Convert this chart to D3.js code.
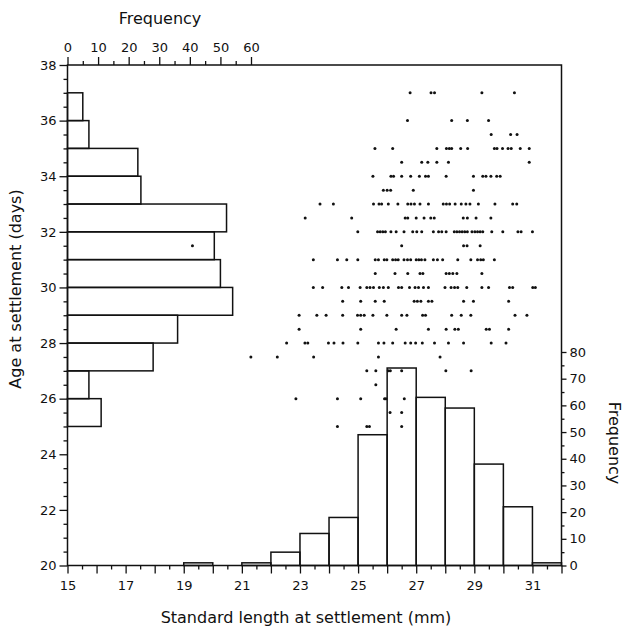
<!DOCTYPE html>
<html>
<head>
<meta charset="utf-8">
<script src="https://cdn.jsdelivr.net/npm/d3@7/dist/d3.min.js"></script>
<style>
  html, body { margin: 0; padding: 0; background: #fff; }
  svg text { font-family: "DejaVu Sans", sans-serif; fill: #111; }
</style>
</head>
<body>
<svg id="chart" width="623" height="627"></svg>
<script>
// ---- Data ----
// Age histogram (left, horizontal bars): bins [age, age+1)
const ageBinStarts = [25, 26, 27, 28, 29, 30, 31, 32, 33, 34, 35, 36];
const ageFreq      = [11,  7, 28, 36, 54, 50, 48, 52, 24, 23,  7,  5];

// Length histogram (bottom, vertical bars): bins [len, len+1)
const lenBinStarts = [19, 21, 22, 23, 24, 25, 26, 27, 28, 29, 30, 31];
const lenFreq      = [ 1,  1,  5, 12, 18, 49, 74, 63, 59, 38, 22,  1];

// Scatter: age (days) rows with standard lengths (mm)
const scatterAges = [37, 36, 35.5, 35, 34.5, 34, 33.5, 33, 32.5, 32, 31.5, 31, 30.5, 30, 29.5, 29, 28.5, 28, 27.5, 27, 26.5, 26, 25.5, 25];
const scatterLengths = [
  [26.79, 27.51, 27.63, 29.26, 30.38],
  [26.70, 28.22, 28.76, 29.49],
  [29.58, 30.25, 30.47],
  [25.58, 26.19, 27.71, 28.04, 28.14, 28.22, 28.53, 28.77, 29.69, 29.78, 29.97, 30.16, 30.27, 30.58, 30.89],
  [26.50, 27.19, 27.40, 27.71, 28.11, 30.89],
  [25.51, 26.13, 26.22, 26.50, 26.81, 27.11, 27.32, 27.42, 28.03, 28.97, 29.29, 29.40, 29.57, 29.77, 29.89],
  [25.87, 26.00, 26.12, 26.90, 28.97],
  [23.69, 24.15, 25.53, 25.72, 25.81, 26.04, 26.37, 26.71, 26.82, 26.94, 27.13, 27.42, 27.93, 28.04, 28.15, 28.34, 28.55, 28.71, 28.85, 29.14, 29.71, 30.32, 30.46],
  [23.18, 24.78, 26.62, 26.71, 27.00, 27.27, 27.50, 27.62, 28.62, 28.76, 29.06, 29.57],
  [24.99, 25.67, 25.76, 25.85, 25.94, 26.13, 26.31, 26.58, 26.88, 27.02, 27.19, 27.59, 27.77, 27.88, 28.03, 28.31, 28.40, 28.49, 28.58, 28.67, 28.76, 28.92, 29.02, 29.11, 29.20, 29.29, 29.60, 29.98, 30.50, 30.61, 31.00],
  [19.30, 26.50, 28.63, 28.75, 29.20],
  [23.46, 24.29, 24.61, 24.99, 25.59, 25.70, 25.90, 25.99, 26.19, 26.29, 26.38, 26.58, 26.70, 26.81, 27.00, 27.09, 27.18, 27.30, 27.59, 27.73, 27.91, 28.43, 28.88, 29.11, 29.22, 29.31, 29.69],
  [25.59, 26.27, 26.71, 27.13, 27.23, 28.03, 28.14, 28.26, 28.40, 29.26],
  [23.46, 23.78, 24.44, 24.67, 25.07, 25.30, 25.41, 25.53, 25.73, 25.87, 26.04, 26.39, 26.50, 26.77, 26.96, 27.08, 27.25, 27.42, 27.99, 28.20, 28.32, 28.43, 28.74, 29.26, 29.49, 30.21, 30.32, 31.01, 31.10],
  [24.47, 25.09, 25.59, 25.90, 26.93, 27.04, 27.16, 27.42, 27.54, 28.63, 28.97, 30.18],
  [22.97, 23.58, 23.90, 24.47, 24.98, 25.09, 25.21, 25.51, 25.99, 26.50, 26.68, 27.22, 27.32, 28.22, 28.55, 28.88, 30.40, 30.81],
  [22.97, 25.09, 26.31, 27.42, 28.03, 28.33, 28.45, 29.41, 29.52, 30.18],
  [22.54, 23.17, 23.27, 23.98, 24.17, 24.48, 24.99, 25.70, 25.89, 26.19, 26.62, 26.81, 26.98, 27.21, 27.63, 28.11, 28.63, 29.58, 30.09],
  [21.31, 22.22, 23.47, 25.70, 27.82],
  [25.30, 25.61, 26.04, 26.11, 26.50, 28.02, 28.89],
  [25.61],
  [22.86, 24.29, 25.09, 25.91, 25.96, 26.59],
  [26.10, 26.50],
  [24.29, 25.30, 25.39, 26.50]
];

// Tick values
const xMajorTicks = d3.range(15, 33, 1);
const xLabelTicks = [15, 17, 19, 21, 23, 25, 27, 29, 31];
const yMajorTicks = [20, 22, 24, 26, 28, 30, 32, 34, 36, 38];
const topFreqTicks = [0, 10, 20, 30, 40, 50, 60];
const rightFreqTicks = [0, 10, 20, 30, 40, 50, 60, 70, 80];

// ---- Scales ----
const x = d3.scaleLinear().domain([15, 32]).range([67.5, 561.5]);
const y = d3.scaleLinear().domain([20, 38]).range([565.5, 65]);
const fTop = d3.scaleLinear().domain([0, 60]).range([67.5, 251]);
const fRight = d3.scaleLinear().domain([0, 80]).range([565.5, 352]);

const svg = d3.select("#chart");
const ink = "#111";

// ---- Frame ----
svg.append("rect")
  .attr("x", x(15)).attr("y", y(38))
  .attr("width", x(32) - x(15)).attr("height", y(20) - y(38))
  .attr("fill", "none").attr("stroke", ink).attr("stroke-width", 1.5);

function styleAxis(g, fontSize) {
  g.select(".domain").remove();
  g.selectAll("line").attr("stroke", ink).attr("stroke-width", 1.3);
  g.selectAll("text").attr("font-size", fontSize).attr("fill", ink)
    .attr("font-family", "DejaVu Sans, sans-serif");
}

// Bottom axis
svg.append("g").attr("transform", `translate(0,${y(20)})`)
  .call(d3.axisBottom(x).tickValues(d3.range(15.5, 32, 1)).tickSize(4).tickFormat(""))
  .call(g => styleAxis(g, 13));
svg.append("g").attr("transform", `translate(0,${y(20)})`)
  .call(d3.axisBottom(x).tickValues(xMajorTicks).tickSize(8).tickPadding(7)
    .tickFormat(d => xLabelTicks.includes(d) ? d : ""))
  .call(g => styleAxis(g, 13));

// Left axis
svg.append("g").attr("transform", `translate(${x(15)},0)`)
  .call(d3.axisLeft(y).tickValues(d3.range(20.5, 38, 0.5).filter(v => !yMajorTicks.includes(v))).tickSize(4).tickFormat(""))
  .call(g => styleAxis(g, 13));
svg.append("g").attr("transform", `translate(${x(15)},0)`)
  .call(d3.axisLeft(y).tickValues(yMajorTicks).tickSize(8).tickPadding(3))
  .call(g => styleAxis(g, 13));

// Top frequency axis
svg.append("g").attr("transform", `translate(0,${y(38)})`)
  .call(d3.axisTop(fTop).tickValues([5, 15, 25, 35, 45, 55]).tickSize(4).tickFormat(""))
  .call(g => styleAxis(g, 13));
svg.append("g").attr("transform", `translate(0,${y(38)})`)
  .call(d3.axisTop(fTop).tickValues(topFreqTicks).tickSize(8).tickPadding(5))
  .call(g => styleAxis(g, 13));

// Right frequency axis
svg.append("g").attr("transform", `translate(${x(32)},0)`)
  .call(d3.axisRight(fRight).tickValues([5, 15, 25, 35, 45, 55, 65, 75]).tickSize(3).tickFormat(""))
  .call(g => styleAxis(g, 13));
svg.append("g").attr("transform", `translate(${x(32)},0)`)
  .call(d3.axisRight(fRight).tickValues(rightFreqTicks).tickSize(5).tickPadding(3))
  .call(g => styleAxis(g, 13));

// ---- Histograms ----
svg.append("g").selectAll("rect")
  .data(ageBinStarts.map((a, i) => ({a, f: ageFreq[i]})))
  .join("rect")
  .attr("x", x(15))
  .attr("y", d => y(d.a + 1))
  .attr("width", d => fTop(d.f) - fTop(0))
  .attr("height", d => y(d.a) - y(d.a + 1))
  .attr("fill", "none").attr("stroke", ink).attr("stroke-width", 1.5);

svg.append("g").selectAll("rect")
  .data(lenBinStarts.map((l, i) => ({l, f: lenFreq[i]})))
  .join("rect")
  .attr("x", d => x(d.l))
  .attr("y", d => fRight(d.f))
  .attr("width", d => x(d.l + 1) - x(d.l))
  .attr("height", d => fRight(0) - fRight(d.f))
  .attr("fill", "none").attr("stroke", ink).attr("stroke-width", 1.5);

// ---- Scatter ----
const pts = [];
scatterAges.forEach((a, i) => scatterLengths[i].forEach(l => pts.push({a, l})));
svg.append("g").selectAll("circle")
  .data(pts).join("circle")
  .attr("cx", d => x(d.l)).attr("cy", d => y(d.a))
  .attr("r", 1.5).attr("fill", ink);

// ---- Titles ----
svg.append("text").attr("x", 160).attr("y", 23.5)
  .attr("text-anchor", "middle").attr("font-size", 16).text("Frequency");
svg.append("text").attr("x", 306).attr("y", 623)
  .attr("text-anchor", "middle").attr("font-size", 16).text("Standard length at settlement (mm)");
svg.append("text").attr("transform", "translate(21,289) rotate(-90)")
  .attr("text-anchor", "middle").attr("font-size", 16).text("Age at settlement (days)");
svg.append("text").attr("transform", "translate(609,443) rotate(90)")
  .attr("text-anchor", "middle").attr("font-size", 16).text("Frequency");
</script>
</body>
</html>
